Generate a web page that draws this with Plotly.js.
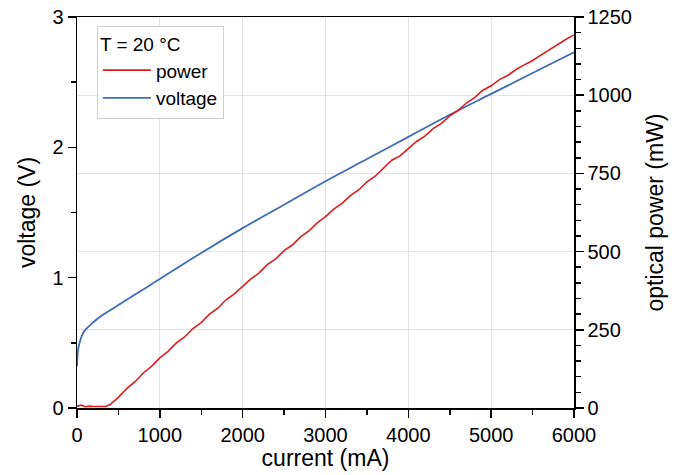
<!DOCTYPE html>
<html><head><meta charset="utf-8">
<script src="https://cdn.plot.ly/plotly-3.0.1.min.js"></script>
<style>body{margin:0;background:#fff}#c{width:680px;height:475px}</style>
</head><body><div id="c"></div>
<script>
// current (mA) for optical power
const powerCurrent = [0,50,100,150,200,250,300,350,400,500,600,700,800,900,1000,1100,1200,1300,1400,1500,1600,1700,1800,1900,2000,2100,2200,2300,2400,2500,2600,2700,2800,2900,3000,3100,3200,3300,3400,3500,3600,3700,3800,3900,4000,4100,4200,4300,4400,4500,4600,4700,4800,4900,5000,5100,5200,5300,5400,5500,5600,5700,5800,5900,6000];
// optical power (mW)
const powerValues = [6,9,4,6,5,4,5,5,11,34,62,84,112,133,160,181,208,227,254,273,300,319,346,365,390,413,432,459,477,503,521,547,566,592,612,636,654,679,697,723,741,766,792,806,830,852,869,893,910,934,951,975,992,1016,1030,1050,1063,1082,1097,1111,1128,1145,1160,1178,1193];
// current (mA) for voltage
const voltageCurrent = [0,5,10,20,40,70,100,150,200,300,400,500,600,700,800,900,1000,1500,2000,2500,3000,3500,4000,4500,5000,5500,6000];
// voltage (V)
const voltageValues = [0.32,0.38,0.43,0.47,0.52,0.57,0.60,0.63,0.66,0.71,0.75,0.79,0.83,0.87,0.91,0.95,0.99,1.19,1.38,1.56,1.74,1.91,2.08,2.25,2.41,2.57,2.73];

const font = {family:'Liberation Sans, Arial, sans-serif', size:20, color:'#000'};
const legendFont = {family:'Liberation Sans, Arial, sans-serif', size:19, color:'#000'};
const titleFont = {family:'Liberation Sans, Arial, sans-serif', size:23, color:'#000'};
const traces = [
  {x:powerCurrent, y:powerValues, name:'power', yaxis:'y2', type:'scatter', mode:'lines',
   line:{color:'#d81e1e', width:1.6}},
  {x:voltageCurrent, y:voltageValues, name:'voltage', yaxis:'y', type:'scatter', mode:'lines',
   line:{color:'#3e6db5', width:1.8, shape:'spline'}}
];
const axCommon = {showline:true, linecolor:'#000', linewidth:1.5, ticks:'outside', ticklen:8, tickwidth:1.5, tickcolor:'#000', zeroline:false, tickfont:font};
const layout = {
  width:680, height:475, margin:{l:77, r:106, t:17, b:67},
  paper_bgcolor:'#fff', plot_bgcolor:'#fff', font:font, showlegend:true,
  xaxis:Object.assign({}, axCommon, {range:[0,6000], dtick:1000, mirror:true, showgrid:true, gridcolor:'#e3e3e3', gridwidth:1,
    minor:{dtick:500, ticks:'outside', ticklen:5, tickwidth:1.5, tickcolor:'#000', showgrid:false},
    title:{text:'current (mA)', font:titleFont, standoff:2}}),
  yaxis:Object.assign({}, axCommon, {range:[0,3], dtick:1, showgrid:false,
    minor:{dtick:0.5, ticks:'outside', ticklen:5, tickwidth:1.5, tickcolor:'#000', showgrid:false},
    title:{text:'voltage (V)', font:titleFont, standoff:10}}),
  yaxis2:Object.assign({}, axCommon, {range:[0,1250], dtick:250, overlaying:'y', side:'right', showgrid:true, gridcolor:'#e3e3e3', gridwidth:1,
    minor:{dtick:50, ticks:'outside', ticklen:5, tickwidth:1.5, tickcolor:'#000', showgrid:false},
    title:{text:'optical power (mW)', font:titleFont, standoff:16}}),
  legend:{x:0.04, y:0.978, xanchor:'left', yanchor:'top', bgcolor:'#fff', bordercolor:'#d0d0d0', borderwidth:1,
    font:legendFont, title:{text:'T = 20 °C', font:legendFont}, itemwidth:48, tracegroupgap:0}
};
Plotly.newPlot('c', traces, layout, {displayModeBar:false, staticPlot:true});
</script></body></html>
